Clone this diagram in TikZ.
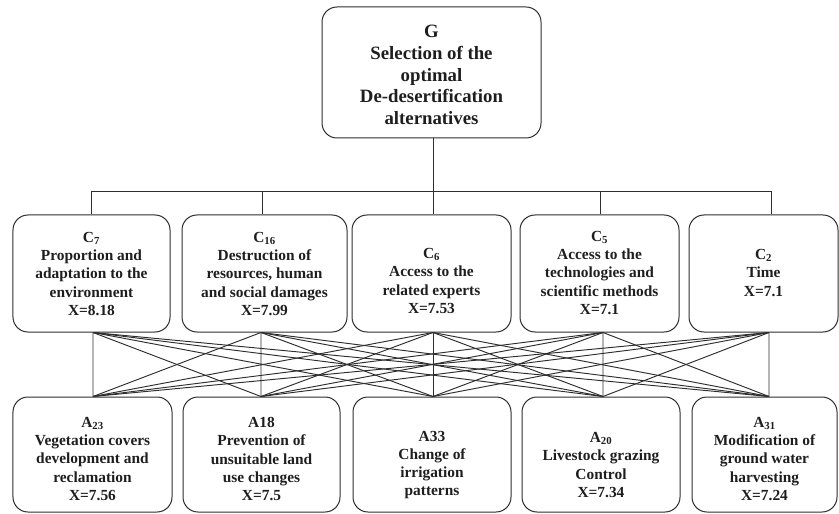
\documentclass[tikz,border=0pt]{standalone}
\usepackage{fontspec}
\setmainfont{Liberation Serif}
\definecolor{linec}{HTML}{2E2E2E}
\definecolor{textc}{HTML}{1E1E1E}
\tikzset{
  box/.style={draw=linec, rounded corners=15bp, line width=1bp, inner sep=0pt},
  lbl/.style={align=center, inner sep=0pt, text=textc,
    font=\fontsize{15.4bp}{18.3bp}\selectfont\bfseries},
  glbl/.style={align=center, inner sep=0pt, text=textc,
    font=\fontsize{18.8bp}{21.7bp}\selectfont\bfseries},
  conn/.style={draw=linec, line width=0.95bp}
}
\begin{document}
\begin{tikzpicture}[x=1bp,y=-1bp]
\useasboundingbox (0,0) rectangle (839,514);
% goal
\node[box, minimum width=219bp, minimum height=131bp] (G) at (431.5,72.5) {};
\node[glbl] (Gt) at (431.5,75) {G\\Selection of the\\optimal\\De-desertification\\alternatives};
% criteria boxes
\node[box, minimum width=157bp, minimum height=117bp] (C7)  at (91.5,273.5) {};
\node[box, minimum width=165bp, minimum height=117bp] (C16) at (264.5,273.5) {};
\node[box, minimum width=159bp, minimum height=117bp] (C6)  at (431.5,273.5) {};
\node[box, minimum width=159bp, minimum height=117bp] (C5)  at (599.5,273.5) {};
\node[box, minimum width=149bp, minimum height=117bp] (C2)  at (763.5,273.5) {};
\node[lbl] (C7t)  at (91.5,274)  {C\textsubscript{7}\\Proportion and\\adaptation to the\\environment\\X=8.18};
\node[lbl] (C16t) at (264.5,274) {C\textsubscript{16}\\Destruction of\\resources, human\\and social damages\\X=7.99};
\node[lbl] (C6t)  at (431.5,281) {C\textsubscript{6}\\Access to the\\related experts\\X=7.53};
\node[lbl] (C5t)  at (599.5,273) {C\textsubscript{5}\\Access to the\\technologies and\\scientific methods\\X=7.1};
\node[lbl] (C2t)  at (763.5,273) {C\textsubscript{2}\\Time\\X=7.1};
% alternative boxes
\node[box, minimum width=159bp, minimum height=115bp] (A23) at (92.5,454.5) {};
\node[box, minimum width=157bp, minimum height=115bp] (A18) at (261.5,454.5) {};
\node[box, minimum width=158bp, minimum height=115bp] (A33) at (432,454.5) {};
\node[box, minimum width=158bp, minimum height=115bp] (A20) at (601,454.5) {};
\node[box, minimum width=145bp, minimum height=115bp] (A31) at (764.5,454.5) {};
\node[lbl] (A23t) at (92.5,459)  {A\textsubscript{23}\\Vegetation covers\\development and\\reclamation\\X=7.56};
\node[lbl] (A18t) at (261.5,459) {A18\\Prevention of\\unsuitable land\\use changes\\X=7.5};
\node[lbl] (A33t) at (432,465)   {A33\\Change of\\irrigation\\patterns};
\node[lbl] (A20t) at (601,465)   {A\textsubscript{20}\\Livestock grazing\\Control\\X=7.34};
\node[lbl] (A31t) at (764.5,459) {A\textsubscript{31}\\Modification of\\ground water\\harvesting\\X=7.24};
% attachment points
\coordinate (C7n)  at ([xshift=-0.5bp]C7.north);
\coordinate (C16n) at ([xshift=-2.5bp]C16.north);
\coordinate (C6n)  at ([xshift=1.5bp]C6.north);
\coordinate (C5n)  at ([xshift=0.5bp]C5.north);
\coordinate (C2n)  at ([xshift=7.5bp]C2.north);
\coordinate (C7s)  at ([xshift=1.5bp]C7.south);
\coordinate (C16s) at ([xshift=-3.5bp]C16.south);
\coordinate (C6s)  at ([xshift=1.5bp]C6.south);
\coordinate (C5s)  at ([xshift=3.5bp]C5.south);
\coordinate (C2s)  at ([xshift=5.5bp]C2.south);
\coordinate (A23n) at ([xshift=0.5bp]A23.north);
\coordinate (A18n) at ([xshift=-0.5bp]A18.north);
\coordinate (A33n) at ([xshift=1bp]A33.north);
\coordinate (A20n) at ([xshift=2bp]A20.north);
\coordinate (A31n) at ([xshift=4.5bp]A31.north);
\coordinate (busL) at (C7n |- 0,191);
\coordinate (busR) at (C2n |- 0,191);
% tree
\draw[conn] ([xshift=1.5bp]G.south) -- ([xshift=1.5bp]G.south |- busL);
\draw[conn] (busL) -- (busR);
\foreach \c in {C7,C16,C6,C5,C2}{
  \draw[conn] (\c n) -- (\c n |- busL);
}
% full connections
\foreach \c in {C7,C16,C6,C5,C2}{
  \foreach \a in {A23,A18,A33,A20,A31}{
    \draw[conn] (\c s) -- (\a n);
  }
}
\end{tikzpicture}
\end{document}
